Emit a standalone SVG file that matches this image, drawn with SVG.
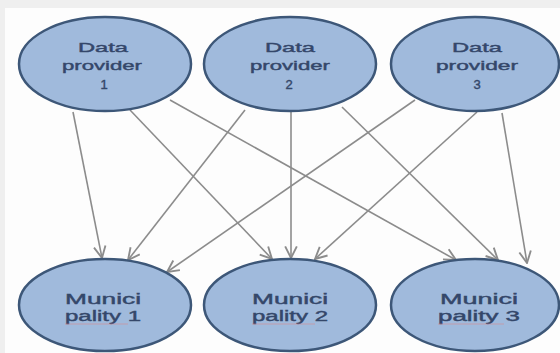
<svg xmlns="http://www.w3.org/2000/svg" width="560" height="353" viewBox="0 0 560 353">
<style>
.node ellipse{fill:#a0badc;stroke:#3d5778;stroke-width:2.5}
.node text{font-family:"Liberation Sans",Arial,sans-serif;font-size:13px;fill:#34476a;stroke:#34476a;stroke-width:0.4;text-anchor:middle}
.node text.m{font-size:14px}
.conn line{stroke:#8c8c8c;stroke-width:1.6;marker-end:url(#arr)}
.sq{stroke:#e08080;stroke-width:1;opacity:0.5}
</style>
<defs>
<marker id="arr" markerUnits="userSpaceOnUse" markerWidth="14" markerHeight="14" refX="11" refY="6" orient="auto" viewBox="0 0 12 12">
<path d="M1,1 L11,6 L1,11" fill="none" stroke="#8c8c8c" stroke-width="1.6"/>
</marker>
</defs>
<rect x="0" y="0" width="560" height="353" fill="#efefef"/>
<rect x="5" y="8" width="555" height="345" fill="#fdfdfd"/>
<g class="conn">
<line x1="73" y1="112" x2="102" y2="258"/>
<line x1="130" y1="110" x2="272" y2="259"/>
<line x1="170" y1="100" x2="456" y2="260"/>
<line x1="245" y1="110" x2="128" y2="260"/>
<line x1="291" y1="112" x2="291" y2="258"/>
<line x1="342" y1="107" x2="498" y2="260"/>
<line x1="415" y1="100" x2="167" y2="272"/>
<line x1="477" y1="112" x2="315" y2="259"/>
<line x1="502" y1="113" x2="527" y2="263"/>
</g>
<g id="p1" class="node"><ellipse cx="105" cy="64" rx="86" ry="47"/>
<text x="103" y="52" textLength="50" lengthAdjust="spacingAndGlyphs">Data</text>
<text x="102" y="70" textLength="80" lengthAdjust="spacingAndGlyphs">provider</text>
<text x="104" y="89">1</text></g>
<g id="p2" class="node"><ellipse cx="290" cy="64" rx="86" ry="47"/>
<text x="290" y="52" textLength="50" lengthAdjust="spacingAndGlyphs">Data</text>
<text x="290" y="70" textLength="80" lengthAdjust="spacingAndGlyphs">provider</text>
<text x="289" y="89">2</text></g>
<g id="p3" class="node"><ellipse cx="475" cy="64" rx="84" ry="47"/>
<text x="477" y="52" textLength="50" lengthAdjust="spacingAndGlyphs">Data</text>
<text x="477" y="70" textLength="82" lengthAdjust="spacingAndGlyphs">provider</text>
<text x="477" y="89">3</text></g>
<g id="m1" class="node"><ellipse cx="105" cy="305" rx="86" ry="46"/>
<text class="m" x="103" y="304" textLength="76" lengthAdjust="spacingAndGlyphs">Munici</text>
<text class="m" x="103" y="321" textLength="76" lengthAdjust="spacingAndGlyphs">pality 1</text>
<line class="sq" x1="65" y1="324" x2="128" y2="324"/></g>
<g id="m2" class="node"><ellipse cx="290" cy="305" rx="86" ry="46"/>
<text class="m" x="290" y="304" textLength="76" lengthAdjust="spacingAndGlyphs">Munici</text>
<text class="m" x="290" y="321" textLength="76" lengthAdjust="spacingAndGlyphs">pality 2</text>
<line class="sq" x1="252" y1="324" x2="315" y2="324"/></g>
<g id="m3" class="node"><ellipse cx="475" cy="305" rx="84" ry="46"/>
<text class="m" x="479" y="304" textLength="78" lengthAdjust="spacingAndGlyphs">Munici</text>
<text class="m" x="479" y="321" textLength="82" lengthAdjust="spacingAndGlyphs">pality 3</text>
<line class="sq" x1="438" y1="324" x2="504" y2="324"/></g>
</svg>
